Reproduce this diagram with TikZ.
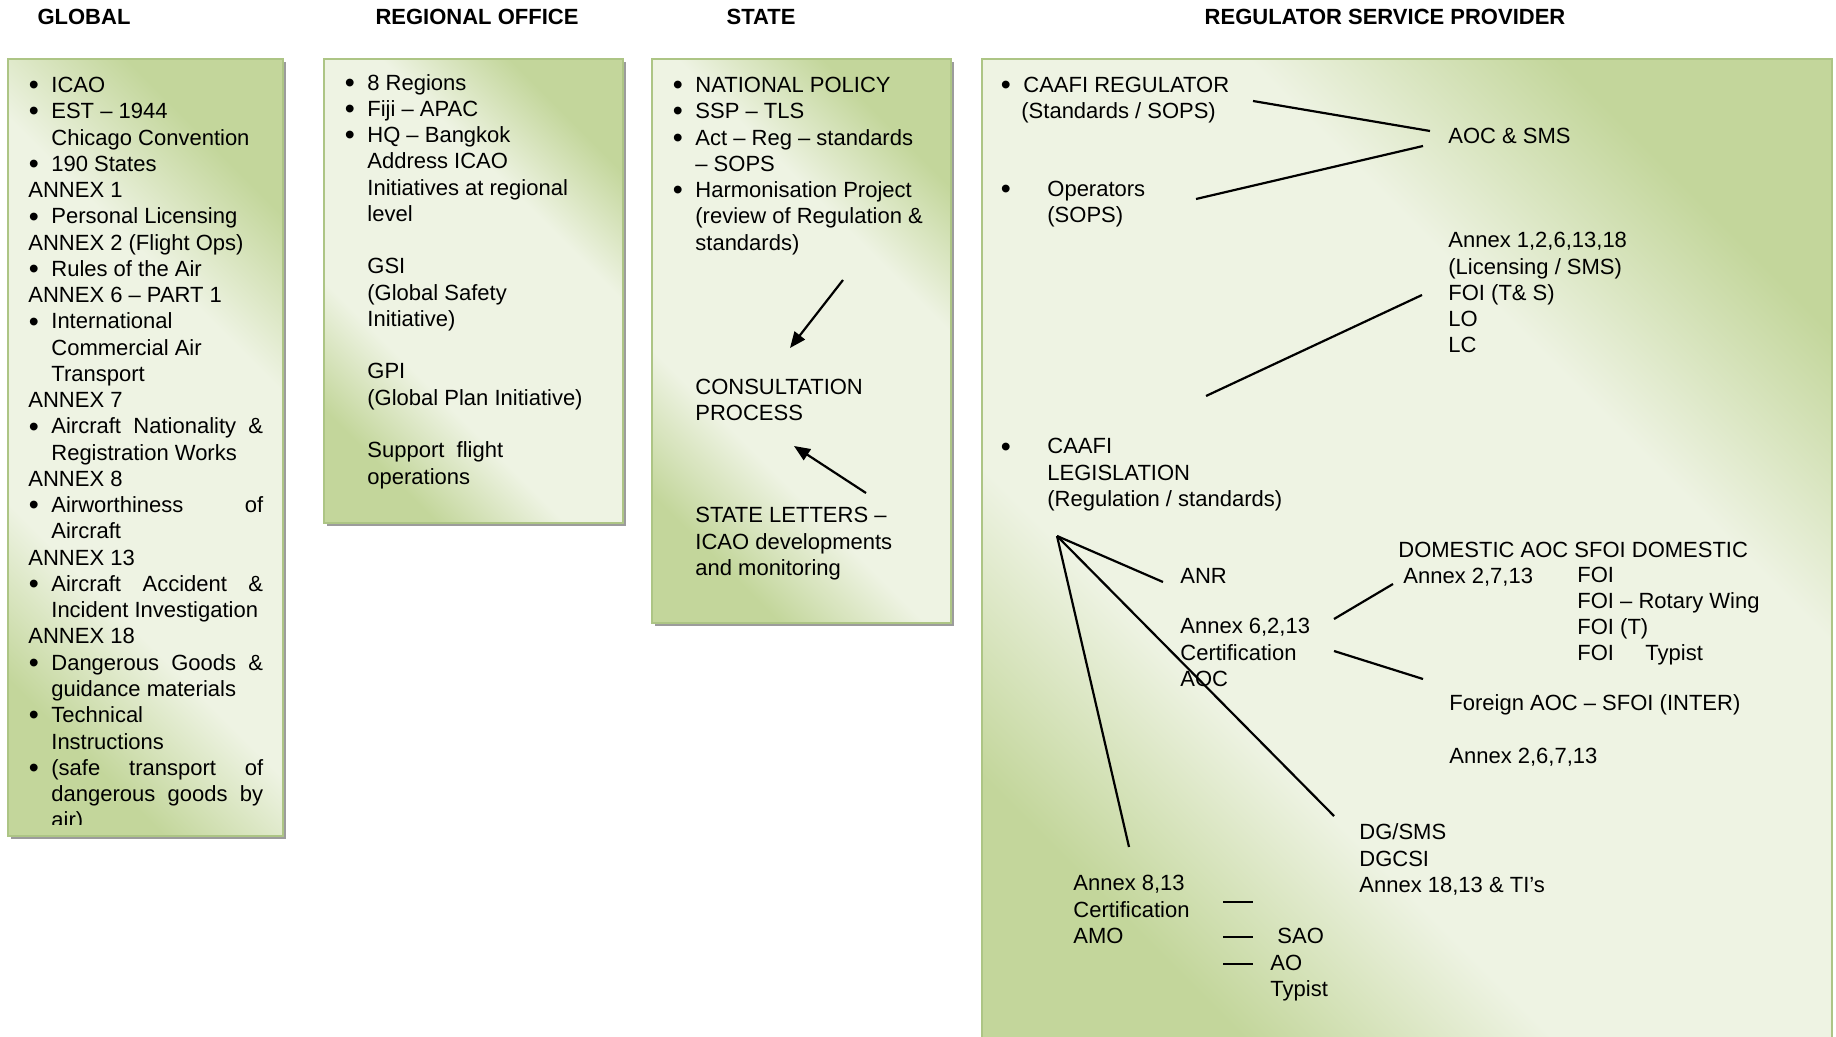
\documentclass[tikz,border=0pt]{standalone}
\usepackage{fontspec}
\setmainfont{Liberation Sans}
\usetikzlibrary{arrows.meta, positioning}

\definecolor{boxdark}{HTML}{C3D69B}
\definecolor{boxlight}{HTML}{EEF3E3}
\definecolor{boxline}{HTML}{ADC585}
\definecolor{boxshadow}{HTML}{9C9C9C}

\pgfdeclareverticalshading{panelshade}{100bp}{color(0bp)=(boxdark); color(25bp)=(boxdark);
    color(37bp)=(boxlight); color(63bp)=(boxlight); color(75bp)=(boxdark); color(100bp)=(boxdark)}

\newcommand{\bul}[1][11.5pt]{\makebox[#1][l]{\hspace{0.2pt}\raisebox{-1.1pt}{\scalebox{1.3}{\textbullet}}}}
\newcommand{\indt}[1][11.5pt]{\hspace*{#1}}
\newcommand{\jline}[1]{\makebox[105.9pt][s]{#1}}

\begin{document}
\begin{tikzpicture}[x=0.5pt, y=0.5pt,
    panel/.style={draw=boxline, line width=0.7pt, shading=panelshade, shading angle=-45},
    txt/.style={anchor=base west, align=left, inner sep=0pt, font=\fontsize{11}{13.13}\selectfont},
    head/.style={anchor=base, inner sep=0pt, font=\fontsize{11}{13.13}\selectfont\bfseries},
    link/.style={line width=1.1pt},
    arr/.style={line width=1.1pt, -{Triangle[length=8pt, width=6.5pt]}}]

    \useasboundingbox (0,0) rectangle (1836,-1037);
    \clip (0,0) rectangle (1836,-1037);

    % column headings
    \node[head] (hglob) at (84,-25) {GLOBAL};
    \node[head] (hreg) at (477,-25) {REGIONAL OFFICE};
    \node[head] (hstate) at (761,-25) {STATE};
    \node[head] (hprov) at (1385,-25) {REGULATOR SERVICE PROVIDER};

    % panels
    \fill[boxshadow] (11,-62) rectangle (286,-839);
    \shade[panel] (8,-59) rectangle (283,-836);
    \fill[boxshadow] (327,-62) rectangle (626,-526);
    \shade[panel] (324,-59) rectangle (623,-523);
    \fill[boxshadow] (655,-62) rectangle (954,-626);
    \shade[panel] (652,-59) rectangle (951,-623);
    \shade[panel] (982,-59) rectangle (1832,-1050);

    % global (node placed by the baseline of its last line)
    \begin{scope}
        \clip (8,-59) rectangle (283,-824);
        \node[txt] (glob) at (28,{-92.5-28*26.26}) {%
            \bul ICAO\\
            \bul EST – 1944\\
            \indt Chicago Convention\\
            \bul 190 States\\
            ANNEX 1\\
            \bul Personal Licensing\\
            ANNEX 2 (Flight Ops)\\
            \bul Rules of the Air\\
            ANNEX 6 – PART 1\\
            \bul International\\
            \indt Commercial Air\\
            \indt Transport\\
            ANNEX 7\\
            \bul \jline{Aircraft Nationality \&}\\
            \indt Registration Works\\
            ANNEX 8\\
            \bul \jline{Airworthiness of}\\
            \indt Aircraft\\
            ANNEX 13\\
            \bul \jline{Aircraft Accident \&}\\
            \indt Incident Investigation\\
            ANNEX 18\\
            \bul \jline{Dangerous Goods \&}\\
            \indt guidance materials\\
            \bul Technical\\
            \indt Instructions\\
            \bul \jline{(safe transport of}\\
            \indt \jline{dangerous goods by}\\
            \indt air)};
    \end{scope}

    % regional office
    \node[txt] (regn) at (344,-484) {%
        \bul 8 Regions\\
        \bul Fiji – APAC\\
        \bul HQ – Bangkok\\
        \indt Address ICAO\\
        \indt Initiatives at regional\\
        \indt level\\[13.13pt]
        \indt GSI\\
        \indt (Global Safety\\
        \indt Initiative)\\[13.13pt]
        \indt GPI\\
        \indt (Global Plan Initiative)\\[13.13pt]
        \indt Support\ \ flight\\
        \indt operations};

    % state
    \node[txt] (natl) at (672,{-92.5-6*26.26}) {%
        \bul NATIONAL POLICY\\
        \bul SSP – TLS\\
        \bul Act – Reg – standards\\
        \indt – SOPS\\
        \bul Harmonisation Project\\
        \indt (review of Regulation \&\\
        \indt standards)};
    \node[txt] (consult) at (695,-421) {CONSULTATION\\PROCESS};
    \node[txt] (letters) at (695,-575.5) {STATE LETTERS –\\ICAO developments\\and monitoring};

    \coordinate (harmEnd) at (843,-280);
    \coordinate (consTop) at (790,-348);
    \coordinate (letTop) at (866,-493);
    \coordinate (consBot) at (794,-446);
    \draw[arr] (harmEnd) -- (consTop);
    \draw[arr] (letTop) -- (consBot);

    % regulator service provider
    \node[txt] (caafi) at (1000,-118.3) {\bul[11.5pt]CAAFI REGULATOR\\ \indt[10.5pt](Standards / SOPS)};
    \node[txt] (oper) at (1000,-222.3) {\bul[23.5pt]Operators\\ \indt[23.5pt](SOPS)};
    \node[txt] (legis) at (1000,-506.5) {\bul[23.5pt]CAAFI\\ \indt[23.5pt]LEGISLATION\\ \indt[23.5pt](Regulation / standards)};
    \node[txt] (aocsms) at (1448,-144) {AOC \& SMS};
    \node[txt] (lic) at (1448,-353) {Annex 1,2,6,13,18\\(Licensing / SMS)\\FOI (T\& S)\\LO\\LC};
    \node[txt] (anr) at (1180,-583) {ANR};
    \node[txt] (cert) at (1180,-686.5) {Annex 6,2,13\\Certification\\AOC};
    \node[txt] (dom) at (1398,-583.3) {DOMESTIC AOC SFOI DOMESTIC\\ \hspace*{2.5pt}Annex 2,7,13};
    \node[txt] (foi) at (1577,-660.8) {FOI\\FOI – Rotary Wing\\FOI (T)\\\makebox[34pt][l]{FOI}Typist};
    \node[txt] (foreign) at (1449,-763.5) {Foreign AOC – SFOI (INTER)\\[13.13pt]Annex 2,6,7,13};
    \node[txt] (dgsms) at (1359,-892.5) {DG/SMS\\DGCSI\\Annex 18,13 \& TI’s};
    \node[txt] (amo) at (1073,-943.5) {Annex 8,13\\Certification\\AMO};
    \node[txt] (staff) at (1270,-996.5) {\hspace*{3.5pt}SAO\\AO\\Typist};

    \coordinate (caafiR) at (1253,-101);
    \coordinate (aocA) at (1430,-131);
    \coordinate (operR) at (1196,-199);
    \coordinate (aocB) at (1423,-146);
    \coordinate (licA) at (1206,-396);
    \coordinate (licB) at (1422,-295);
    \coordinate (fan) at (1057,-536);
    \coordinate (anrL) at (1163,-582);
    \coordinate (dgTop) at (1334,-816);
    \coordinate (amoTop) at (1129,-847);
    \coordinate (certA) at (1334,-619);
    \coordinate (domL) at (1393,-584);
    \coordinate (certB) at (1334,-651);
    \coordinate (forL) at (1423,-679);

    \draw[link] (caafiR) -- (aocA);
    \draw[link] (operR) -- (aocB);
    \draw[link] (licA) -- (licB);
    \draw[link] (fan) -- (anrL);
    \draw[link] (fan) -- (dgTop);
    \draw[link] (fan) -- (amoTop);
    \draw[link] (certA) -- (domL);
    \draw[link] (certB) -- (forL);

    % dashes by AMO
    \foreach \y in {902,937,964}
        \draw[link] (1223,-\y) -- (1253,-\y);
\end{tikzpicture}
\end{document}
